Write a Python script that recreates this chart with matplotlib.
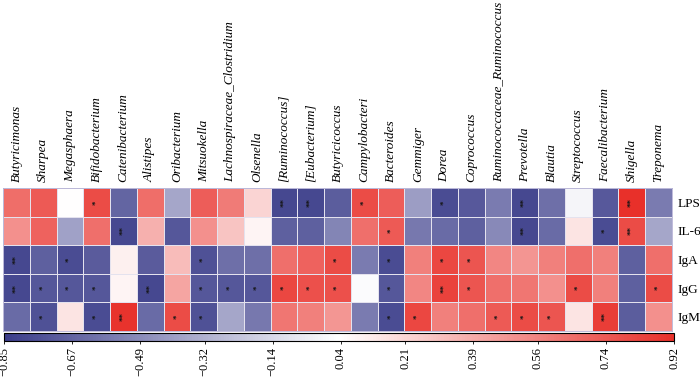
import numpy as np
import matplotlib
matplotlib.use('Agg')
import matplotlib.pyplot as plt
from matplotlib.colors import LinearSegmentedColormap, Normalize

genera = ['Butyricimonas', 'Sharpea', 'Megasphaera', 'Bifidobacterium', 'Catenibacterium',
          'Alistipes', 'Oribacterium', 'Mitsuokella', 'Lachnospiraceae_Clostridium', 'Olsenella',
          '[Ruminococcus]', '[Eubacterium]', 'Butyricicoccus', 'Campylobacteri', 'Bacteroides',
          'Gemmiger', 'Dorea', 'Coprococcus', 'Ruminococcaceae_Ruminococcus', 'Prevotella',
          'Blautia', 'Streptococcus', 'Faecalibacterium', 'Shigella', 'Treponema']
markers = ['LPS', 'IL-6', 'IgA', 'IgG', 'IgM']

# correlation values
lps = [0.655, 0.74, 0.04, 0.80, -0.67, 0.655, -0.37, 0.72, 0.60, 0.22, -0.80, -0.80, -0.70,
       0.80, 0.72, -0.41, -0.78, -0.72, -0.56, -0.80, -0.62, -0.01, -0.72, 0.92, -0.56]
il6 = [0.51, 0.70, -0.39, 0.65, -0.80, 0.37, -0.73, 0.51, 0.29, 0.08, -0.69, -0.69, -0.52,
       0.65, 0.74, -0.58, -0.64, -0.69, -0.50, -0.80, -0.64, 0.15, -0.78, 0.80, -0.37]
iga = [-0.80, -0.69, -0.78, -0.71, 0.10, -0.71, 0.32, -0.76, -0.62, -0.62, 0.65, 0.70, 0.80,
       -0.56, -0.78, 0.58, 0.82, 0.76, 0.55, 0.49, 0.58, 0.65, 0.58, -0.69, 0.65]
igg = [-0.80, -0.73, -0.73, -0.73, 0.08, -0.80, 0.42, -0.73, -0.73, -0.73, 0.82, 0.78, 0.78,
       0.02, -0.73, 0.55, 0.84, 0.76, 0.65, 0.62, 0.51, 0.80, 0.58, -0.69, 0.80]
igm = [-0.64, -0.76, 0.15, -0.78, 0.90, -0.64, 0.80, -0.76, -0.37, -0.58, 0.62, 0.58, 0.48,
       -0.56, -0.78, 0.82, 0.58, 0.65, 0.74, 0.80, 0.76, 0.15, 0.86, -0.70, 0.51]

# significance: 1 = *, 2 = **
sig_lps = [0, 0, 0, 1, 0, 0, 0, 0, 0, 0, 2, 2, 0, 1, 0, 0, 1, 0, 0, 2, 0, 0, 0, 2, 0]
sig_il6 = [0, 0, 0, 0, 2, 0, 0, 0, 0, 0, 0, 0, 0, 0, 1, 0, 0, 0, 0, 2, 0, 0, 1, 2, 0]
sig_iga = [2, 0, 1, 0, 0, 0, 0, 1, 0, 0, 0, 0, 1, 0, 1, 0, 1, 1, 0, 0, 0, 0, 0, 0, 0]
sig_igg = [2, 1, 1, 1, 0, 2, 0, 1, 1, 1, 1, 1, 1, 0, 1, 0, 2, 1, 0, 0, 0, 1, 0, 0, 1]
sig_igm = [0, 1, 0, 1, 2, 0, 1, 1, 0, 0, 0, 0, 0, 0, 1, 1, 0, 0, 1, 1, 1, 0, 2, 0, 0]

cbar_ticks = [-0.85, -0.67, -0.49, -0.32, -0.14, 0.04, 0.21, 0.39, 0.56, 0.74, 0.92]

vals = np.array([lps, il6, iga, igg, igm])
sigs = np.array([sig_lps, sig_il6, sig_iga, sig_igg, sig_igm])

vmin, vmax = -0.85, 0.92
mid = (vmin + vmax) / 2
cmap = LinearSegmentedColormap.from_list(
    'bwr2', [(0, '#3b3d8a'), ((mid - vmin) / (vmax - vmin), '#ffffff'), (1, '#e8302a')])
norm = Normalize(vmin, vmax)

serif = 'Liberation Serif'

fig = plt.figure(figsize=(7, 3.79), dpi=100)
ax = fig.add_axes([3 / 700, 48 / 379, 669 / 700, 143 / 379])
mesh = ax.pcolormesh(vals, cmap=cmap, norm=norm, edgecolors='#e4e2ee', linewidth=0.4)
ax.set_xlim(0, len(genera))
ax.set_ylim(len(markers), 0)

# stars, drawn rotated like the rest of the figure
for i in range(len(markers)):
    for j in range(len(genera)):
        if sigs[i, j]:
            ax.text(j + 0.5, i + 0.5, '*' * sigs[i, j], rotation=90, ha='center', va='center',
                    fontsize=6.5, color='#151515', fontfamily=serif, fontweight='bold',
                    rotation_mode='anchor')

ax.xaxis.tick_top()
ax.set_xticks(np.arange(len(genera)) + 0.5)
ax.set_xticklabels(genera, rotation=90, fontfamily=serif, fontstyle='italic', fontsize=9.5)
ax.yaxis.tick_right()
ax.set_yticks(np.arange(len(markers)) + 0.5)
ax.set_yticklabels(markers, fontfamily=serif, fontsize=9.5)
ax.tick_params(length=0, pad=4)
for s in ax.spines.values():
    s.set_color('#b4b0d4')
    s.set_linewidth(0.6)

cax = fig.add_axes([4 / 700, 38 / 379, 670 / 700, 8 / 379])
cb = fig.colorbar(mesh, cax=cax, orientation='horizontal')
cb.set_ticks(cbar_ticks)
cb.set_ticklabels([f'{t:.2f}'.replace('-', '\u2212') for t in cbar_ticks])
cax.tick_params(labelsize=9, length=2.5, width=0.6, pad=2, labelrotation=90)
for lab in cax.get_xticklabels():
    lab.set_fontfamily(serif)
cb.outline.set_linewidth(0.8)

fig.savefig('out.png', dpi=100)
